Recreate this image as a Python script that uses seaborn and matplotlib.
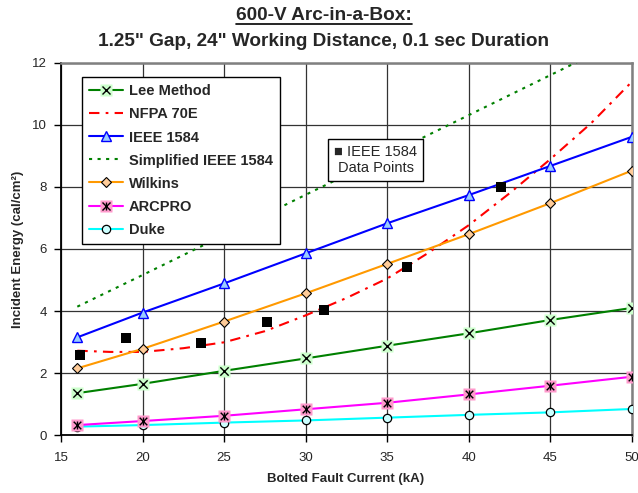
import numpy as np
import pandas as pd
import matplotlib
matplotlib.use("Agg")
import matplotlib.pyplot as plt
import seaborn as sns
from matplotlib.lines import Line2D
from matplotlib.legend_handler import HandlerTuple

# ---------------- data ----------------
current = [16, 20, 25, 30, 35, 40, 45, 50]
lee = [1.35, 1.65, 2.07, 2.47, 2.88, 3.28, 3.71, 4.10]
ieee = [3.15, 3.95, 4.89, 5.86, 6.83, 7.74, 8.68, 9.62]
simplified = [4.14, 5.16, 6.45, 7.75, 9.03, 10.32, 11.61, 12.90]
wilkins = [2.15, 2.78, 3.66, 4.57, 5.52, 6.48, 7.48, 8.53]
arcpro = [0.32, 0.45, 0.62, 0.83, 1.04, 1.31, 1.59, 1.88]
duke = [0.27, 0.32, 0.40, 0.47, 0.56, 0.65, 0.73, 0.84]

nfpa_current = [16, 18, 20, 22.5, 25, 27.5, 30, 32.5, 35, 37.5, 40, 42.5, 45, 47.5, 50]
nfpa = [2.72, 2.68, 2.68, 2.80, 2.99, 3.35, 3.86, 4.42, 5.05, 5.87, 6.77, 7.80, 8.90, 10.06, 11.40]

data_current = [16.17, 19.0, 23.58, 27.6, 31.15, 36.22, 41.99]
data_energy = [2.58, 3.12, 2.98, 3.65, 4.02, 5.41, 8.01]

x_ticks = [15, 20, 25, 30, 35, 40, 45, 50]
y_ticks = [0, 2, 4, 6, 8, 10, 12]

title1 = "600-V Arc-in-a-Box:"
title2 = '1.25" Gap, 24" Working Distance, 0.1 sec Duration'
xlabel = "Bolted Fault Current (kA)"
ylabel = "Incident Energy (cal/cm²)"

# ---------------- style ----------------
sns.set_style("white")
plt.rcParams['font.family'] = ['Liberation Sans', 'DejaVu Sans']

fig = plt.figure(figsize=(6.38, 4.93), dpi=100)
ax = fig.add_axes([61/638, 1-435/493, 571/638, 372/493])

GREEN = "#008000"
RED = "#ff0000"
BLUE = "#0000ff"
ORANGE = "#ff9900"
MAGENTA = "#ff00ff"
CYAN = "#00ffff"
LW = 1.5
DOT = (0, (1.5, 2.6))
DASHDOT = (0, (5, 3, 1.3, 3))

# Simplified IEEE 1584 (dotted)
sns.lineplot(x=current, y=simplified, ax=ax, color=GREEN, lw=LW, linestyle=DOT, zorder=3)
# NFPA 70E (dash-dot)
sns.lineplot(x=nfpa_current, y=nfpa, ax=ax, color=RED, lw=LW, linestyle=DASHDOT, zorder=3)
# Duke
sns.lineplot(x=current, y=duke, ax=ax, color=CYAN, lw=LW, marker='o', ms=6,
             mfc="#ccffff", mec="black", mew=0.9, zorder=4)
# ARCPRO
sns.lineplot(x=current, y=arcpro, ax=ax, color=MAGENTA, lw=LW, marker='s', ms=8,
             mfc="#ff99cc", mec="none", zorder=4)
sns.scatterplot(x=current, y=arcpro, ax=ax, marker='x', s=30, color='black', linewidth=1.0, zorder=5)
sns.scatterplot(x=current, y=arcpro, ax=ax, marker='|', s=30, color='black', linewidth=1.0, zorder=5)
# Lee Method
sns.lineplot(x=current, y=lee, ax=ax, color=GREEN, lw=LW, marker='s', ms=8,
             mfc="#ccffcc", mec="none", zorder=4)
sns.scatterplot(x=current, y=lee, ax=ax, marker='x', s=36, color='black', linewidth=1.0, zorder=5)
# Wilkins
sns.lineplot(x=current, y=wilkins, ax=ax, color=ORANGE, lw=LW, marker='D', ms=5.5,
             mfc="#ffcc99", mec="black", mew=0.8, zorder=4)
# IEEE 1584
sns.lineplot(x=current, y=ieee, ax=ax, color=BLUE, lw=LW, marker='^', ms=7.5,
             mfc="#99ccff", mec=BLUE, mew=1.0, zorder=4)
# IEEE 1584 data points
sns.scatterplot(x=data_current, y=data_energy, ax=ax, marker='s', s=50, color='black',
                linewidth=0, zorder=6)

# ---------------- axes ----------------
ax.set_xlim(15, 50)
ax.set_ylim(0, 12)
ax.set_xticks(x_ticks)
ax.set_yticks(y_ticks)
ax.set_xticklabels([str(t) for t in x_ticks], fontsize=9.5)
ax.set_yticklabels([str(t) for t in y_ticks], fontsize=9.5)
ax.tick_params(axis='x', direction='out', length=5, width=1, pad=7, color='black', bottom=True)
ax.tick_params(axis='y', direction='out', length=5, width=1, pad=5, color='black', left=True)
ax.grid(True, color='#333333', lw=0.9, zorder=1)
ax.set_axisbelow(True)
ax.set_xlabel("")
ax.set_ylabel("")
for s in ['left', 'bottom']:
    ax.spines[s].set_color('black')
    ax.spines[s].set_linewidth(1.3)
for s in ['top', 'right']:
    ax.spines[s].set_color('#808080')
    ax.spines[s].set_linewidth(1.8)

# ---------------- legend ----------------
handles = [
    (Line2D([], [], color=GREEN, lw=LW, marker='s', ms=8, mfc="#ccffcc", mec='none'),
     Line2D([], [], ls='none', marker='x', ms=6, color='black', mew=1.0)),
    Line2D([], [], color=RED, lw=LW, linestyle=DASHDOT),
    Line2D([], [], color=BLUE, lw=LW, marker='^', ms=7.5, mfc="#99ccff", mec=BLUE),
    Line2D([], [], color=GREEN, lw=LW, linestyle=DOT),
    Line2D([], [], color=ORANGE, lw=LW, marker='D', ms=5.5, mfc="#ffcc99", mec='black', mew=0.8),
    (Line2D([], [], color=MAGENTA, lw=LW, marker='s', ms=8, mfc="#ff99cc", mec='none'),
     Line2D([], [], ls='none', marker='x', ms=6, color='black', mew=1.0),
     Line2D([], [], ls='none', marker='|', ms=6, color='black', mew=1.0)),
    Line2D([], [], color=CYAN, lw=LW, marker='o', ms=6, mfc="#ccffff", mec='black', mew=0.9),
]
labels = ["Lee Method", "NFPA 70E", "IEEE 1584", "Simplified IEEE 1584", "Wilkins", "ARCPRO", "Duke"]
leg = ax.legend(handles, labels, loc='upper left', bbox_to_anchor=(0.037, 0.962),
                borderaxespad=0, prop={'weight': 'bold', 'size': 10.5},
                handler_map={tuple: HandlerTuple(ndivide=1, pad=0)},
                handlelength=2.3, handletextpad=0.4, labelspacing=0.62,
                fancybox=False, framealpha=1, edgecolor='black', borderpad=0.5)
leg.get_frame().set_linewidth(1.0)
leg.set_zorder(10)

# text box
ax.text(0.551, 0.739, "■ IEEE 1584\nData Points", transform=ax.transAxes,
        ha='center', va='center', fontsize=10.5, linespacing=1.15, zorder=10,
        bbox=dict(boxstyle='square,pad=0.4', fc='white', ec='black', lw=1.0))

# ---------------- titles / labels ----------------
t1 = fig.text(324/638, 1-16/493, title1, ha='center', va='center', fontsize=13.7, fontweight='bold')
fig.text(324/638, 1-42/493, title2, ha='center', va='center', fontsize=13.7, fontweight='bold')
fig.text(346/638, 1-479/493, xlabel, ha='center', va='center', fontsize=9.5, fontweight='bold')
fig.text(18/638, 1-249/493, ylabel, ha='center', va='center', rotation=90, fontsize=9.5, fontweight='bold')

# underline the first title line
fig.canvas.draw()
bb = t1.get_window_extent(renderer=fig.canvas.get_renderer())
inv = fig.transFigure.inverted()
(x0, y0) = inv.transform((bb.x0, bb.y0 + 1))
(x1, _) = inv.transform((bb.x1, bb.y0 + 1))
fig.add_artist(Line2D([x0, x1], [y0, y0], transform=fig.transFigure, color='black', lw=1.2))

fig.savefig("out.png", dpi=100)
